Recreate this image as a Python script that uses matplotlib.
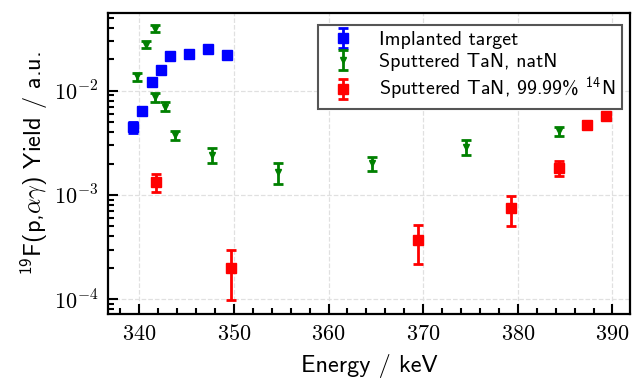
import math
import matplotlib
matplotlib.use("Agg")
import matplotlib.pyplot as plt
from matplotlib.font_manager import FontProperties
from matplotlib.ticker import FuncFormatter, MultipleLocator, LogLocator, NullFormatter

# ticks in CM serif, labels in CM sans (cmss10 ships with matplotlib)
plt.rcParams['mathtext.fontset'] = 'cm'
plt.rcParams['mathtext.rm'] = 'cmss10'
plt.rcParams['mathtext.sf'] = 'cmss10'
plt.rcParams['mathtext.it'] = 'cmss10'
plt.rcParams['mathtext.fallback'] = 'cm'

# Implanted target
impl_E = [339.3, 340.3, 341.3, 342.3, 343.3, 345.3, 347.3, 349.3]
impl_Y = [0.00446, 0.00643, 0.0122, 0.0157, 0.0215, 0.0223, 0.0251, 0.0218]
impl_err = [0.0005, 0.0005, 0.0008, 0.0008, 0.0010, 0.0010, 0.0012, 0.0010]

# Sputtered TaN, natN
nat_E = [339.8, 340.7, 341.7, 341.7, 342.7, 343.8, 347.7, 354.7, 364.6, 374.5, 384.3]
nat_Y = [0.0137, 0.0276, 0.0393, 0.00865, 0.00703, 0.00375, 0.00241, 0.00165, 0.00201, 0.0029, 0.0041]
nat_err = [0.0012, 0.0020, 0.0030, 0.0008, 0.0007, 0.0004, 0.00038, 0.00038, 0.0003, 0.0005, 0.0004]

# Sputtered TaN, 99.99% 14N
enr_E = [341.8, 349.7, 369.5, 379.3, 384.3, 387.3, 389.3]
enr_Y = [0.00132, 0.000198, 0.00037, 0.000743, 0.00183, 0.00469, 0.0057]
enr_err = [0.00026, 0.0001, 0.00015, 0.00024, 0.0003, 0.0004, 0.0004]

fig = plt.figure(figsize=(6.33, 3.79), dpi=100)
ax = fig.add_axes([0.1714, 0.1707, 0.8246, 0.7943])

eb = dict(ls='none', capsize=3.3, elinewidth=2.0, capthick=2.0)
ax.errorbar(impl_E, impl_Y, yerr=impl_err, fmt='s', color='blue', ms=6.5,
            label='Implanted target', **eb)
ax.errorbar(nat_E, nat_Y, yerr=nat_err, fmt='v', color='green', ms=5,
            label='Sputtered TaN, natN', **eb)
ax.errorbar(enr_E, enr_Y, yerr=enr_err, fmt='s', color='red', ms=6.5,
            label=r'Sputtered TaN, 99.99% $^{14}$N', **eb)

ax.set_yscale('log')
ax.set_xlim(336.75, 391.9)
ax.set_ylim(7.18e-5, 0.0552)

ax.xaxis.set_major_locator(MultipleLocator(10))
ax.xaxis.set_minor_locator(MultipleLocator(2))
ax.xaxis.set_major_formatter(FuncFormatter(lambda v, p: r'$%d$' % round(v)))
ax.yaxis.set_major_locator(LogLocator(base=10))
ax.yaxis.set_minor_locator(LogLocator(base=10, subs=range(2, 10)))
ax.yaxis.set_major_formatter(FuncFormatter(lambda v, p: r'$10^{%d}$' % round(math.log10(v))))
ax.yaxis.set_minor_formatter(NullFormatter())

ax.tick_params(which='both', direction='in', width=1.5, labelsize=16, pad=7)
ax.tick_params(which='major', length=7)
ax.tick_params(which='minor', length=4)
for s in ax.spines.values():
    s.set_linewidth(1.6)

ax.grid(True, which='major', ls='--', color='#e0e0e0', lw=0.9)
ax.set_axisbelow(True)

label_font = FontProperties(family='cmss10', size=17.5, math_fontfamily='custom')
ax.set_xlabel('Energy / keV', fontproperties=label_font, labelpad=7)
ax.set_ylabel(r'$^{19}$F(p,$\alpha\gamma$) Yield / a.u.', fontproperties=label_font, labelpad=3)

leg_font = FontProperties(family='cmss10', size=14.4, math_fontfamily='custom')
leg = ax.legend(loc='upper right', bbox_to_anchor=(0.983, 0.962), borderaxespad=0,
                prop=leg_font, fancybox=False, framealpha=1, edgecolor='#555555',
                handlelength=1.9, handletextpad=0.85, borderpad=0.3, labelspacing=0.2)
leg.get_frame().set_linewidth(1.5)

fig.savefig('out.png', dpi=100)
